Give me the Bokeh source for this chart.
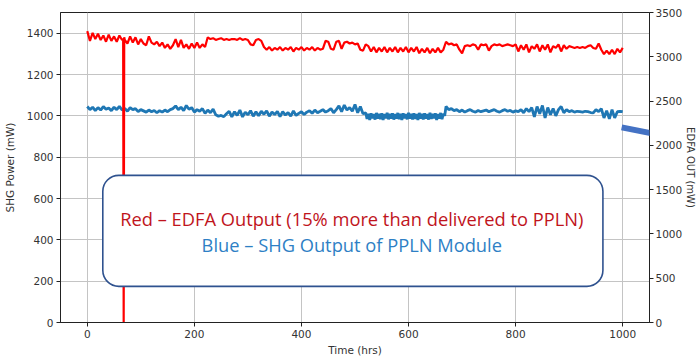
import numpy as np
from bokeh.plotting import figure
from bokeh.models import (Range1d, LinearAxis, FixedTicker, BoxAnnotation, Label, Arrow)
from bokeh.embed import file_html
from bokeh.resources import INLINE

# ---------------- data ----------------
# EDFA output (right axis, mW), sampled every 5 hrs with a dropout near 68 hrs
red_hours = list(range(0, 70, 5)) + [67, 68, 69] + list(range(70, 1001, 5))
red_values = [
    3290, 3180, 3270, 3200, 3260, 3190, 3240, 3170, 3250, 3180, 3230, 3170, 3240, 3190,
    3200, 0, 3220,
    3190, 3150, 3230, 3160, 3220, 3140, 3200, 3150, 3130, 3230,   # 70-115
    3160, 3140, 3170, 3120, 3160, 3100, 3140, 3090, 3130, 3200,   # 120-165
    3110, 3190, 3100, 3140, 3090, 3150, 3100, 3160, 3100, 3140,   # 170-215
    3110, 3220, 3200, 3210, 3190, 3200, 3210, 3190, 3200, 3190,   # 220-265
    3200, 3200, 3190, 3210, 3190, 3200, 3190, 3140, 3130, 3190,   # 270-315
    3200, 3180, 3110, 3080, 3110, 3070, 3100, 3080, 3110, 3070,   # 320-365
    3100, 3080, 3110, 3060, 3100, 3080, 3110, 3070, 3100, 3080,   # 370-415
    3110, 3070, 3100, 3080, 3090, 3180, 3170, 3090, 3080, 3170,   # 420-465
    3180, 3090, 3160, 3170, 3150, 3160, 3140, 3150, 3080, 3070,   # 470-515
    3140, 3120, 3060, 3110, 3050, 3100, 3060, 3110, 3050, 3100,   # 520-565
    3060, 3110, 3050, 3100, 3060, 3110, 3050, 3100, 3060, 3110,   # 570-615
    3040, 3090, 3050, 3100, 3040, 3090, 3050, 3100, 3050, 3080,   # 620-665
    3170, 3140, 3150, 3130, 3140, 3080, 3040, 3120, 3130, 3120,   # 670-715
    3140, 3130, 3080, 3140, 3130, 3140, 3070, 3120, 3140, 3130,   # 720-765
    3140, 3120, 3130, 3140, 3130, 3120, 3140, 3060, 3130, 3080,   # 770-815
    3140, 3050, 3120, 3090, 3140, 3060, 3130, 3080, 3140, 3050,   # 820-865
    3120, 3100, 3140, 3060, 3130, 3090, 3120, 3110, 3100, 3110,   # 870-915
    3100, 3110, 3100, 3120, 3130, 3100, 3090, 3150, 3080, 3030,   # 920-965
    3070, 3030, 3080, 3030, 3090, 3050, 3100,                     # 970-1000
]

# SHG output (left axis, mW)
blue_hours = list(range(0, 520, 5)) + list(np.arange(520, 670, 2.5)) + list(range(670, 1001, 5))
blue_values = [
    1045, 1030, 1042, 1025, 1040, 1028, 1045, 1032, 1038, 1025,   # 0-45
    1042, 1030, 1046, 1028, 1036, 1022, 1040, 1030, 1035, 1020,   # 50-95
    1030, 1024, 1018, 1028, 1020, 1026, 1015, 1025, 1018, 1028,   # 100-145
    1020, 1030, 1035, 1048, 1030, 1042, 1025, 1050, 1032, 1040,   # 150-195
    1018, 1030, 1022, 1035, 1012, 1028, 1015, 1032, 1005, 998,    # 200-245
    1002, 996, 1010, 1022, 995, 1020, 1002, 1028, 995, 1018,      # 250-295
    1005, 1025, 998, 1020, 1000, 1022, 1008, 1024, 998, 1018,     # 300-345
    1006, 1022, 996, 1020, 1004, 1016, 998, 1024, 1002, 1012,     # 350-395
    1020, 1006, 1018, 1025, 1012, 1028, 1015, 1022, 1030, 1018,   # 400-445
    1025, 1035, 1015, 1030, 1048, 1020, 1052, 1028, 1040, 1022,   # 450-495
    1055, 1015, 1045, 1010,                                       # 500-515
    1015, 985, 1010, 980, 1012, 988, 1008, 982, 1014, 986,        # 520-542.5
    1010, 984, 1012, 980, 1008, 988, 1015, 983, 1010, 986,
    1012, 982, 1008, 987, 1014, 984, 1010, 980, 1012, 988,
    1008, 983, 1015, 986, 1010, 982, 1012, 985, 1008, 980,
    1014, 987, 1010, 983, 1012, 986, 1008, 982, 1015, 985,
    1010, 988, 1012, 980, 1008, 986, 1014, 984, 1010, 1000,       # -667.5
    1045, 1030, 1035, 1025, 1030, 1020, 1028, 1018, 1025, 1030,   # 670-715
    1022, 1018, 1026, 1020, 1024, 1028, 1020, 1025, 1030, 1022,   # 720-765
    1018, 1025, 1030, 1022, 1026, 1018, 1024, 1020, 1030, 1015,   # 770-815
    1035, 1020, 1040, 995, 1045, 1010, 1050, 990, 1040, 1005,     # 820-865
    1035, 1000, 1030, 1045, 1015, 1030, 1020, 1025, 1018, 1022,   # 870-915
    1020, 1018, 1022, 1020, 1016, 1014, 1030, 1020, 1035, 990,    # 920-965
    1025, 985, 1030, 990, 1020, 1022, 1020,                       # 970-1000
]

x_ticks = [0, 200, 400, 600, 800, 1000]
left_ticks = [0, 200, 400, 600, 800, 1000, 1200, 1400]
right_ticks = [0, 500, 1000, 1500, 2000, 2500, 3000, 3500]

line1 = "Red \u2013 EDFA Output (15% more than delivered to PPLN)"
line2 = "Blue \u2013 SHG Output of PPLN Module"

# annotation geometry (data units)
box_left, box_right, box_top, box_bottom = 29, 963, 712, 175
text_x, text1_y, text2_y = 494, 504, 378
arrow_x0, arrow_y0, arrow_x1, arrow_y1 = 998, 944, 1185, 848

# ---------------- figure ----------------
TICK_FONT = "DejaVu Sans"
p = figure(width=699, height=359, output_backend="svg", toolbar_location=None,
           x_range=Range1d(-50, 1050), y_range=Range1d(0, 1500),
           min_border_left=60, min_border_right=44, min_border_top=12, min_border_bottom=37)
p.extra_y_ranges = {"edfa": Range1d(0, 3500)}

p.background_fill_color = "white"
p.border_fill_color = "white"
p.outline_line_color = "#222222"
p.outline_line_width = 1

p.xgrid.ticker = FixedTicker(ticks=x_ticks)
p.ygrid.ticker = FixedTicker(ticks=left_ticks)
for g in (p.xgrid, p.ygrid):
    g.grid_line_color = "#c4c4c4"
    g.grid_line_width = 1

def style_axis(ax):
    ax.axis_line_color = "#222222"
    ax.major_tick_line_color = "#222222"
    ax.major_tick_out = 4
    ax.major_tick_in = 0
    ax.minor_tick_line_color = None
    ax.major_label_text_font = TICK_FONT
    ax.major_label_text_font_size = "10.5px"
    ax.major_label_text_color = "#333333"
    ax.major_label_standoff = 3
    ax.axis_label_text_font = TICK_FONT
    ax.axis_label_text_font_size = "10.5px"
    ax.axis_label_text_font_style = "normal"
    ax.axis_label_text_color = "#333333"

p.xaxis.ticker = FixedTicker(ticks=x_ticks)
p.xaxis.axis_label = "Time (hrs)"
style_axis(p.xaxis[0])
p.xaxis.axis_label_standoff = 3

p.yaxis.ticker = FixedTicker(ticks=left_ticks)
p.yaxis.axis_label = "SHG Power (mW)"
style_axis(p.yaxis[0])
p.yaxis.axis_label_standoff = 8

right_axis = LinearAxis(y_range_name="edfa", ticker=FixedTicker(ticks=right_ticks),
                        axis_label="EDFA OUT (mW)")
style_axis(right_axis)
right_axis.axis_label_text_font_size = "10px"
right_axis.major_label_standoff = 2
right_axis.axis_label_standoff = 0
right_axis.axis_label_orientation = "vertical"
p.add_layout(right_axis, "right")

p.line(blue_hours, blue_values, line_color="#1f77b4", line_width=2.8)
p.line(red_hours, red_values, y_range_name="edfa", line_color="#ff0000", line_width=2.2)

box = BoxAnnotation(left=box_left, right=box_right, top=box_top, bottom=box_bottom,
                    fill_color="white", fill_alpha=1.0, line_color="#2f528f", line_alpha=1.0,
                    line_width=1.6, border_radius=16, level="overlay")
p.add_layout(box)

p.add_layout(Label(x=text_x, y=text1_y, text=line1, text_align="center",
                   text_baseline="alphabetic", text_font="Open Sans",
                   text_font_size="18.3px", text_color="#c0141c", level="overlay"))
p.add_layout(Label(x=text_x, y=text2_y, text=line2, text_align="center",
                   text_baseline="alphabetic", text_font="Open Sans",
                   text_font_size="18.3px", text_color="#2e7fc5", level="overlay"))

p.add_layout(Arrow(end=None, x_start=arrow_x0, y_start=arrow_y0, x_end=arrow_x1, y_end=arrow_y1,
                   line_color="#4472c4", line_width=6, line_cap="butt", level="overlay"))

open("out.html", "w").write(file_html(p, INLINE))
